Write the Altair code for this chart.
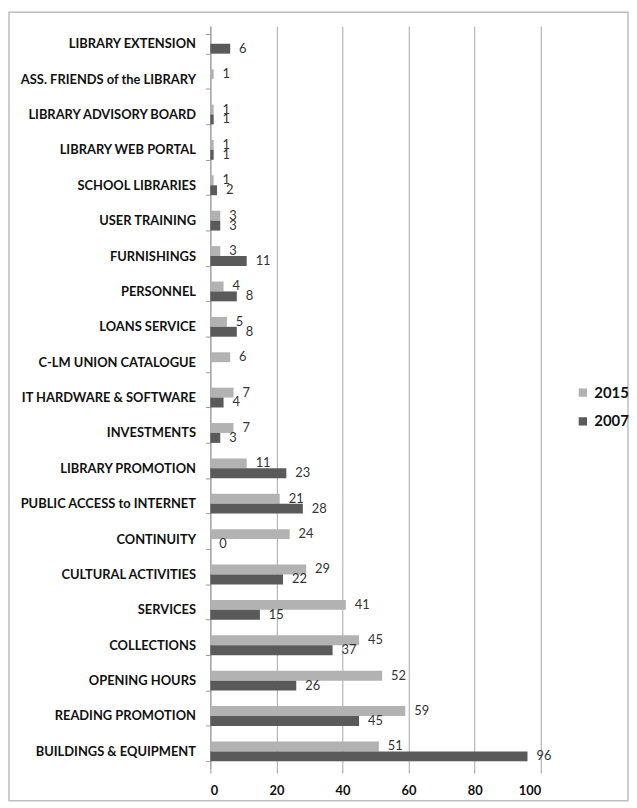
import altair as alt
import pandas as pd

categories = [
    "LIBRARY EXTENSION", "ASS. FRIENDS of the LIBRARY", "LIBRARY ADVISORY BOARD",
    "LIBRARY WEB PORTAL", "SCHOOL LIBRARIES", "USER TRAINING", "FURNISHINGS",
    "PERSONNEL", "LOANS SERVICE", "C-LM UNION CATALOGUE", "IT HARDWARE & SOFTWARE",
    "INVESTMENTS", "LIBRARY PROMOTION", "PUBLIC ACCESS to INTERNET", "CONTINUITY",
    "CULTURAL ACTIVITIES", "SERVICES", "COLLECTIONS", "OPENING HOURS",
    "READING PROMOTION", "BUILDINGS & EQUIPMENT",
]
v2015 = [None, 1, 1, 1, 1, 3, 3, 4, 5, 6, 7, 7, 11, 21, 24, 29, 41, 45, 52, 59, 51]
v2007 = [6, None, 1, 1, 2, 3, 11, 8, 8, None, 4, 3, 23, 28, 0, 22, 15, 37, 26, 45, 96]
years = ["2015", "2007"]
colors = ["#b2b2b2", "#5a5a5a"]

rows = []
for c, a, b in zip(categories, v2015, v2007):
    if a is not None:
        rows.append({"cat": c, "year": "2015", "value": a})
    if b is not None:
        rows.append({"cat": c, "year": "2007", "value": b})
df = pd.DataFrame(rows)

FONT = "Lato"

base = alt.Chart(df).encode(
    y=alt.Y("cat:N", sort=categories, title=None,
            scale=alt.Scale(paddingInner=0.44, paddingOuter=0.22),
            axis=alt.Axis(labelFont=FONT, labelFontWeight="bold", labelFontSize=13,
                          labelColor="#111", labelPadding=10, tickBand="extent",
                          tickSize=5, tickColor="#999", domainColor="#999",
                          labelLimit=300)),
    yOffset=alt.YOffset("year:N", sort=years),
)

bars = base.mark_bar().encode(
    x=alt.X("value:Q", title=None, scale=alt.Scale(domain=[0, 100]),
            axis=alt.Axis(values=[0, 20, 40, 60, 80, 100], labelFont=FONT,
                          labelFontWeight="bold", labelFontSize=13, labelColor="#111",
                          labelPadding=12, grid=True, gridColor="#a6a6a6",
                          domain=False, tickSize=4, tickColor="#999")),
    color=alt.Color("year:N", sort=years, scale=alt.Scale(domain=years, range=colors),
                    legend=alt.Legend(title=None, orient="none", legendX=368, legendY=362,
                                      symbolType="square", symbolSize=70,
                                      labelFont=FONT, labelFontWeight="bold",
                                      labelFontSize=15, labelColor="#111",
                                      rowPadding=13, symbolStrokeWidth=0)),
)

labels = base.mark_text(align="left", baseline="middle", dx=9, font=FONT,
                        fontSize=13, color="#333").encode(
    x="value:Q",
    text="value:Q",
)

border = alt.Chart(pd.DataFrame({"a": [0]})).mark_rect(
    fill="transparent", stroke="#bdbdbd", strokeWidth=1.5
).encode(
    x=alt.value(-203), x2=alt.value(421), y=alt.value(-14), y2=alt.value(781)
)

chart = alt.layer(border, bars, labels).properties(
    width=333, height=749, padding=0
).configure_view(stroke=None)

chart.save("out.html", embed_options={"renderer": "svg", "actions": False})
